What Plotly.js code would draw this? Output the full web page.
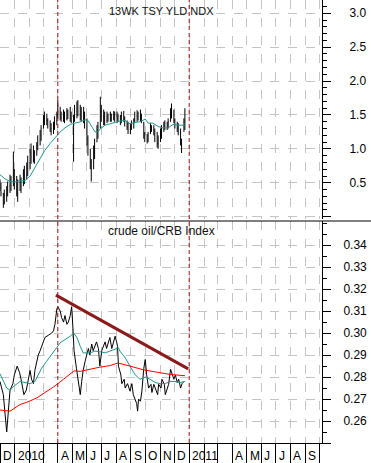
<!DOCTYPE html>
<html>
<head>
<meta charset="utf-8">
<script src="https://cdn.plot.ly/plotly-3.0.1.min.js"></script>
<style>html,body{margin:0;padding:0;background:#fff;}#chart{width:371px;height:463px;}</style>
</head>
<body>
<div id="chart"></div>
<script>
// ---- 13WK TSY YLD NDX (top panel) ----
const yldDates = ['2009-12-01','2009-12-03','2009-12-08','2009-12-10','2009-12-15','2009-12-17','2009-12-22','2009-12-24','2009-12-29','2009-12-31',
'2010-01-05','2010-01-07','2010-01-12','2010-01-14','2010-01-19','2010-01-21','2010-01-26','2010-01-28','2010-02-02','2010-02-04',
'2010-02-09','2010-02-11','2010-02-16','2010-02-18','2010-02-23','2010-02-25','2010-03-02','2010-03-04','2010-03-09','2010-03-11',
'2010-03-16','2010-03-18','2010-03-23','2010-03-25','2010-03-30','2010-04-01','2010-04-06','2010-04-08','2010-04-13','2010-04-15',
'2010-04-20','2010-04-22','2010-04-27','2010-04-29','2010-05-04','2010-05-06','2010-05-11','2010-05-13','2010-05-18','2010-05-20',
'2010-05-25','2010-05-27','2010-06-01','2010-06-03','2010-06-08','2010-06-10','2010-06-15','2010-06-17','2010-06-22','2010-06-24',
'2010-06-29','2010-07-01','2010-07-06','2010-07-08','2010-07-13','2010-07-15','2010-07-20','2010-07-22','2010-07-27','2010-07-29',
'2010-08-03','2010-08-05','2010-08-10','2010-08-12','2010-08-17','2010-08-19','2010-08-24','2010-08-26','2010-08-31','2010-09-02',
'2010-09-07','2010-09-09','2010-09-14','2010-09-16','2010-09-21','2010-09-23','2010-09-28','2010-09-30','2010-10-05','2010-10-07',
'2010-10-12','2010-10-14','2010-10-19','2010-10-21','2010-10-26','2010-10-28','2010-11-02','2010-11-04','2010-11-09','2010-11-11',
'2010-11-16','2010-11-18','2010-11-23','2010-11-25','2010-11-30','2010-12-02','2010-12-07','2010-12-09','2010-12-14','2010-12-16',
'2010-12-21','2010-12-23'];
const yldHigh = [0.55,0.50,0.35,0.40,0.45,0.52,0.62,0.60,0.96,0.70,
0.60,0.55,0.62,0.58,0.70,0.75,0.80,0.90,1.00,1.08,
1.05,0.98,1.10,1.20,1.28,1.35,1.50,1.55,1.52,1.45,
1.42,1.38,1.40,1.48,1.55,1.72,1.62,1.55,1.58,1.55,
1.60,1.58,1.62,1.55,1.50,1.65,1.70,1.72,1.65,1.62,
1.62,1.55,1.45,1.20,1.00,0.85,1.05,1.15,1.35,1.40,
1.77,1.65,1.58,1.55,1.55,1.52,1.55,1.52,1.56,1.55,
1.55,1.52,1.50,1.55,1.56,1.48,1.42,1.40,1.38,1.42,
1.45,1.55,1.57,1.55,1.58,1.52,1.40,1.25,1.22,1.25,
1.38,1.35,1.35,1.30,1.25,1.20,1.30,1.35,1.40,1.42,
1.40,1.45,1.60,1.67,1.58,1.45,1.40,1.38,1.30,1.15,
1.45,1.60];
const yldLow = [0.38,0.30,0.13,0.18,0.22,0.30,0.35,0.38,0.45,0.40,
0.30,0.22,0.38,0.35,0.45,0.48,0.55,0.60,0.70,0.78,
0.80,0.78,0.90,0.98,1.05,1.12,1.30,1.35,1.35,1.30,
1.25,1.20,1.22,1.28,1.35,1.45,1.42,1.40,1.40,1.38,
1.42,1.44,1.40,1.38,0.81,1.40,1.45,1.48,1.42,1.40,
1.38,1.30,1.05,0.90,0.70,0.52,0.70,0.85,1.10,1.15,
1.30,1.40,1.35,1.35,1.38,1.40,1.40,1.40,1.42,1.40,
1.38,1.40,1.35,1.38,1.40,1.33,1.28,1.22,1.22,1.28,
1.30,1.38,1.40,1.42,1.40,1.38,1.15,1.10,1.08,1.10,
1.22,1.25,1.20,1.10,1.02,1.00,1.10,1.15,1.25,1.28,
1.28,1.30,1.40,1.45,1.38,1.30,1.25,1.20,1.05,0.94,
1.25,1.28];
const yldOpen = [0.50,0.42,0.30,0.22,0.30,0.38,0.45,0.52,0.50,0.65,
0.50,0.40,0.40,0.52,0.48,0.60,0.58,0.70,0.80,0.92,
0.88,0.95,0.90,1.05,1.12,1.20,1.32,1.45,1.42,1.42,
1.35,1.30,1.25,1.35,1.42,1.50,1.55,1.48,1.45,1.50,
1.45,1.55,1.50,1.45,1.42,1.35,1.55,1.60,1.55,1.50,
1.48,1.45,1.35,1.15,0.95,0.80,0.75,0.95,1.10,1.28,
1.35,1.55,1.48,1.45,1.42,1.48,1.45,1.50,1.45,1.50,
1.48,1.45,1.48,1.42,1.50,1.45,1.38,1.32,1.28,1.32,
1.38,1.42,1.50,1.48,1.52,1.45,1.38,1.20,1.15,1.12,
1.22,1.32,1.28,1.22,1.15,1.08,1.12,1.25,1.30,1.35,
1.38,1.32,1.40,1.55,1.50,1.42,1.35,1.30,1.25,1.10,
1.20,1.40];
const yldClose = [0.42,0.35,0.20,0.32,0.40,0.45,0.55,0.45,0.70,0.50,
0.40,0.35,0.55,0.45,0.62,0.55,0.72,0.82,0.95,0.88,
0.98,0.85,1.05,1.15,1.22,1.30,1.45,1.42,1.45,1.35,
1.30,1.25,1.35,1.42,1.50,1.55,1.48,1.45,1.52,1.45,
1.55,1.50,1.45,1.42,1.30,1.55,1.60,1.55,1.50,1.48,
1.45,1.35,1.15,1.00,0.80,0.70,0.95,1.05,1.28,1.32,
1.55,1.48,1.45,1.42,1.48,1.45,1.50,1.45,1.50,1.48,
1.45,1.48,1.42,1.50,1.45,1.38,1.32,1.28,1.32,1.38,
1.42,1.50,1.48,1.52,1.45,1.40,1.20,1.15,1.12,1.20,
1.32,1.28,1.22,1.15,1.08,1.12,1.25,1.30,1.35,1.38,
1.32,1.40,1.55,1.50,1.42,1.35,1.30,1.25,1.10,1.00,
1.40,1.35];
const yldMaDates = ['2009-12-01','2009-12-11','2009-12-22','2010-01-01','2010-01-12','2010-01-22','2010-02-02','2010-02-12','2010-02-23','2010-03-05',
'2010-03-16','2010-03-26','2010-04-06','2010-04-16','2010-04-27','2010-05-07','2010-05-18','2010-05-28','2010-06-03','2010-06-12',
'2010-06-18','2010-06-24','2010-06-28','2010-07-09','2010-07-19','2010-07-30','2010-08-09','2010-08-20','2010-08-30','2010-09-10',
'2010-09-20','2010-10-01','2010-10-07','2010-10-17','2010-10-28','2010-11-07','2010-11-18','2010-11-28','2010-12-09','2010-12-23'];
const yldMa = [0.62,0.56,0.52,0.51,0.53,0.53,0.60,0.72,0.85,0.98,
1.08,1.16,1.25,1.31,1.36,1.38,1.40,1.43,1.42,1.32,
1.25,1.25,1.29,1.35,1.37,1.39,1.41,1.42,1.37,1.39,
1.40,1.44,1.38,1.38,1.33,1.31,1.31,1.36,1.35,1.35];

// ---- crude oil/CRB Index (bottom panel) ----
const ratioDates = ['2009-12-01','2009-12-08','2009-12-15','2009-12-18','2009-12-22','2009-12-28','2009-12-31','2010-01-06','2010-01-11','2010-01-15',
'2010-01-20','2010-01-25','2010-01-29','2010-02-02','2010-02-05','2010-02-09','2010-02-12','2010-02-19','2010-02-23','2010-02-26',
'2010-03-05','2010-03-12','2010-03-19','2010-03-23','2010-03-26','2010-03-30','2010-04-01','2010-04-06','2010-04-09','2010-04-13',
'2010-04-16','2010-04-20','2010-04-23','2010-04-27','2010-04-30','2010-05-03','2010-05-05','2010-05-10','2010-05-14','2010-05-18',
'2010-05-21','2010-05-24','2010-05-28','2010-06-01','2010-06-04','2010-06-07','2010-06-11','2010-06-14','2010-06-18','2010-06-21',
'2010-06-25','2010-06-28','2010-07-02','2010-07-09','2010-07-12','2010-07-16','2010-07-19','2010-07-23','2010-07-26','2010-07-30',
'2010-08-02','2010-08-04','2010-08-06','2010-08-11','2010-08-13','2010-08-18','2010-08-20','2010-08-25','2010-08-30','2010-09-03',
'2010-09-06','2010-09-10','2010-09-13','2010-09-15','2010-09-17','2010-09-21','2010-09-24','2010-09-28','2010-10-01','2010-10-04',
'2010-10-06','2010-10-08','2010-10-13','2010-10-15','2010-10-19','2010-10-22','2010-10-27','2010-10-29','2010-11-03','2010-11-05',
'2010-11-10','2010-11-12','2010-11-16','2010-11-19','2010-11-23','2010-11-26','2010-11-30','2010-12-03','2010-12-07','2010-12-10',
'2010-12-14','2010-12-17','2010-12-21'];
const ratioValues = [0.278,0.272,0.255,0.265,0.274,0.277,0.281,0.285,0.282,0.278,
0.272,0.274,0.278,0.283,0.279,0.277,0.283,0.290,0.292,0.294,
0.298,0.299,0.300,0.301,0.304,0.311,0.312,0.310,0.307,0.305,
0.308,0.304,0.305,0.308,0.312,0.301,0.292,0.284,0.277,0.272,
0.278,0.283,0.287,0.290,0.293,0.290,0.295,0.292,0.294,0.296,
0.293,0.285,0.292,0.296,0.293,0.296,0.298,0.293,0.295,0.2986,
0.296,0.294,0.285,0.281,0.277,0.279,0.275,0.277,0.2736,0.277,
0.272,0.270,0.268,0.2645,0.270,0.269,0.2736,0.284,0.288,0.281,
0.278,0.275,0.2767,0.273,0.2767,0.2745,0.272,0.2767,0.275,0.279,
0.2767,0.272,0.275,0.2767,0.2835,0.281,0.279,0.281,0.2775,0.279,
0.275,0.277,0.278];
const ratioShortMaDates = ['2009-12-01','2009-12-08','2009-12-15','2009-12-22','2009-12-31','2010-01-12','2010-01-22','2010-02-02','2010-02-12','2010-02-19',
'2010-02-26','2010-03-08','2010-03-19','2010-03-30','2010-04-06','2010-04-16','2010-04-27','2010-05-04','2010-05-11','2010-05-18',
'2010-05-24','2010-06-07','2010-06-18','2010-06-28','2010-07-09','2010-07-19','2010-07-30','2010-08-06','2010-08-09','2010-08-20',
'2010-08-30','2010-09-10','2010-09-20','2010-10-01','2010-10-11','2010-10-22','2010-11-01','2010-11-12','2010-11-22','2010-12-02',
'2010-12-13','2010-12-23'];
const ratioShortMa = [0.2815,0.278,0.275,0.274,0.276,0.278,0.2775,0.277,0.278,0.281,
0.284,0.287,0.290,0.2935,0.2956,0.297,0.2986,0.300,0.298,0.294,
0.291,0.291,0.2918,0.2915,0.291,0.2918,0.2926,0.2933,0.2918,0.2888,
0.285,0.281,0.279,0.280,0.279,0.2775,0.277,0.277,0.278,0.278,
0.2775,0.278];
const ratioLongMaDates = ['2009-12-01','2009-12-22','2010-01-12','2010-01-26','2010-02-16','2010-03-02','2010-03-23','2010-04-13','2010-04-27','2010-05-05',
'2010-05-18','2010-06-07','2010-06-28','2010-07-19','2010-08-05','2010-08-30','2010-09-27','2010-10-26','2010-11-22','2010-12-23'];
const ratioLongMa = [0.2650,0.2645,0.2675,0.2685,0.2705,0.2725,0.2755,0.2790,0.2812,0.2828,
0.2826,0.2836,0.2845,0.2852,0.2864,0.2850,0.2833,0.2822,0.2812,0.2806];
const trendDates = ['2010-03-28','2010-12-30'];
const trendValues = [0.3173,0.2837];

// ---- axis categories ----
const markerDates = ['2010-04-01','2011-01-01'];
const monthStarts = ['2009-12-01','2010-01-01','2010-02-01','2010-03-01','2010-04-01','2010-05-01','2010-06-01','2010-07-01','2010-08-01','2010-09-01',
'2010-10-01','2010-11-01','2010-12-01','2011-01-01','2011-02-01','2011-03-01','2011-04-01','2011-05-01','2011-06-01','2011-07-01',
'2011-08-01','2011-09-01','2011-10-01'];
const monthLabels = ['D','2010','','','A','M','J','J','A','S','O','N','D','2011','','','A','M','J','J','A','S'];
const topTickVals = [0,0.5,1.0,1.5,2.0,2.5,3.0];
const topTickText = ['','0.5','1.0','1.5','2.0','2.5','3.0'];
const botTickVals = [0.25,0.26,0.27,0.28,0.29,0.30,0.31,0.32,0.33,0.34];
const botTickText = ['','0.26','0.27','0.28','0.29','0.30','0.31','0.32','0.33','0.34'];
const topTitle = '13WK TSY YLD NDX';
const botTitle = 'crude oil/CRB Index';

const FONT = 'Liberation Sans, Arial, sans-serif';
const GRID = '#c4c4c4';
const TEAL = '#1e9688';

const traces = [
  {type:'ohlc', x:yldDates, open:yldOpen, high:yldHigh, low:yldLow, close:yldClose, xaxis:'x', yaxis:'y',
   increasing:{line:{color:'#000',width:1}}, decreasing:{line:{color:'#000',width:1}}, tickwidth:0.25, hoverinfo:'skip', showlegend:false},
  {type:'scatter', mode:'lines', x:yldMaDates, y:yldMa, xaxis:'x', yaxis:'y', line:{color:TEAL,width:1}, hoverinfo:'skip', showlegend:false},
  {type:'scatter', mode:'lines', x:ratioDates, y:ratioValues, xaxis:'x', yaxis:'y2', line:{color:'#000',width:1}, hoverinfo:'skip', showlegend:false},
  {type:'scatter', mode:'lines', x:ratioShortMaDates, y:ratioShortMa, xaxis:'x', yaxis:'y2', line:{color:TEAL,width:1}, hoverinfo:'skip', showlegend:false},
  {type:'scatter', mode:'lines', x:ratioLongMaDates, y:ratioLongMa, xaxis:'x', yaxis:'y2', line:{color:'#ff0000',width:1}, hoverinfo:'skip', showlegend:false},
  {type:'scatter', mode:'lines', x:trendDates, y:trendValues, xaxis:'x', yaxis:'y2', line:{color:'#8b1a1a',width:3}, hoverinfo:'skip', showlegend:false}
];

const H = 443; // plot area height in px
const shapes = markerDates.map(d => ({type:'line', xref:'x', yref:'paper', x0:d, x1:d, y0:0, y1:1,
  line:{color:'#9b1111', width:1, dash:'4px,3px'}}));
shapes.push({type:'line', xref:'paper', yref:'paper', x0:0, x1:371/322, y0:(H-221)/H, y1:(H-221)/H, line:{color:'#000', width:1}});

const annotations = monthLabels.map((t,i) => ({x:monthStarts[i], xref:'x', y:-(13/H), yref:'paper', text:t,
  showarrow:false, xanchor:'left', yanchor:'middle', xshift:1, font:{family:FONT, size:12, color:'#000'}}));
annotations.push({x:161.5/322, xref:'paper', y:(H-11)/H, yref:'paper', text:topTitle, showarrow:false,
  xanchor:'center', yanchor:'middle', font:{family:FONT, size:11, color:'#111'}});
annotations.push({x:161/322, xref:'paper', y:(H-231)/H, yref:'paper', text:botTitle, showarrow:false,
  xanchor:'center', yanchor:'middle', font:{family:FONT, size:12, color:'#111'}});

const layout = {
  width:371, height:463,
  margin:{l:0, r:49, t:0, b:20, pad:0},
  paper_bgcolor:'#fff', plot_bgcolor:'#fff',
  showlegend:false,
  font:{family:FONT, size:12, color:'#000'},
  xaxis:{type:'date', range:['2009-12-01','2011-10-06'], anchor:'y2', automargin:false,
    tickmode:'array', tickvals:monthStarts, showticklabels:false,
    ticks:'outside', ticklen:20, tickcolor:'#000', tickwidth:1,
    showgrid:true, gridcolor:GRID, griddash:'dash', gridwidth:1,
    showline:true, linecolor:'#000', linewidth:1, zeroline:false,
    rangeslider:{visible:false}, fixedrange:true},
  yaxis:{domain:[(H-219)/H, 1], range:[-0.034, 3.196], side:'right', anchor:'x', automargin:false,
    tickmode:'array', tickvals:topTickVals, ticktext:topTickText,
    ticks:'outside', ticklen:8, tickcolor:'#000', tickwidth:1, ticklabelstandoff:16,
    minor:{tickmode:'linear', tick0:0, dtick:0.1, ticks:'outside', ticklen:4, tickcolor:'#000', showgrid:false},
    showgrid:true, gridcolor:GRID, griddash:'dash', gridwidth:1,
    showline:true, linecolor:'#000', linewidth:1, zeroline:false,
    tickfont:{family:FONT, size:12, color:'#000'}, fixedrange:true},
  yaxis2:{domain:[0, (H-221)/H], range:[0.25, 0.351], side:'right', anchor:'x', automargin:false,
    tickmode:'array', tickvals:botTickVals, ticktext:botTickText,
    ticks:'outside', ticklen:8, tickcolor:'#000', tickwidth:1, ticklabelstandoff:10,
    minor:{tickmode:'linear', tick0:0.25, dtick:0.005, ticks:'outside', ticklen:4, tickcolor:'#000', showgrid:false},
    showgrid:true, gridcolor:GRID, griddash:'dash', gridwidth:1,
    showline:true, linecolor:'#000', linewidth:1, zeroline:false,
    tickfont:{family:FONT, size:12, color:'#000'}, fixedrange:true},
  shapes:shapes,
  annotations:annotations
};

Plotly.newPlot('chart', traces, layout, {staticPlot:true, displayModeBar:false});
</script>
</body>
</html>
